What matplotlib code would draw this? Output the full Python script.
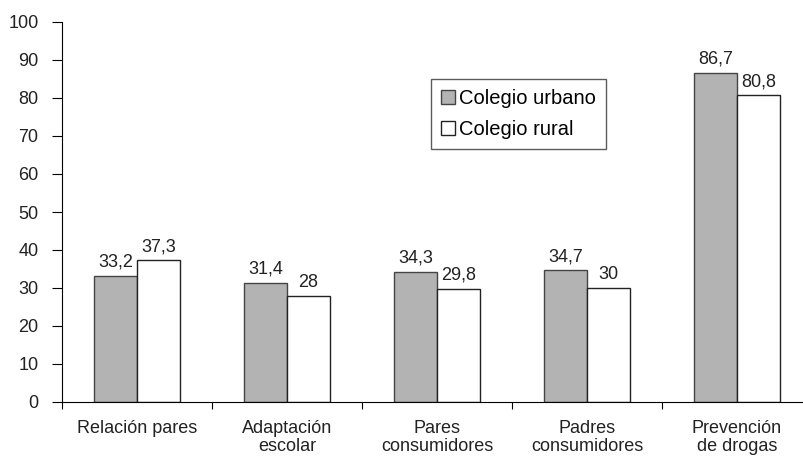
import numpy as np
import matplotlib.pyplot as plt

plt.rcParams['font.family'] = ['Liberation Sans', 'DejaVu Sans']

# Data
categories = ["Relación pares", "Adaptación\nescolar", "Pares\nconsumidores",
              "Padres\nconsumidores", "Prevención\nde drogas"]
urbano = [33.2, 31.4, 34.3, 34.7, 86.7]
rural = [37.3, 28, 29.8, 30, 80.8]
urbano_labels = ["33,2", "31,4", "34,3", "34,7", "86,7"]
rural_labels = ["37,3", "28", "29,8", "30", "80,8"]

fig = plt.figure(figsize=(8.04, 4.58), dpi=100)
ax = fig.add_axes([62 / 804, 1 - 402 / 458, 750 / 804, 380 / 458])

x = np.arange(len(categories)) + 0.5
w = 0.287
ax.bar(x - w / 2, urbano, w, color="#b3b3b3", edgecolor="#444444", linewidth=1, label="Colegio urbano")
ax.bar(x + w / 2, rural, w, color="white", edgecolor="#222222", linewidth=1, label="Colegio rural")

for xi, v, t in zip(x - w / 2, urbano, urbano_labels):
    ax.text(xi, v + 1.3, t, ha="center", va="bottom", fontsize=13, color="#222222")
for xi, v, t in zip(x + w / 2, rural, rural_labels):
    ax.text(xi, v + 1.3, t, ha="center", va="bottom", fontsize=13, color="#222222")

ax.set_xlim(0, len(categories))
ax.set_ylim(0, 100)
ax.set_yticks(np.arange(0, 101, 10))
ax.set_xticks(np.arange(0, len(categories) + 1))
ax.set_xticklabels([])
ax.set_xticks(x, minor=True)
ax.set_xticklabels(categories, minor=True, fontsize=13, color="#222222", linespacing=1.1)
ax.tick_params(axis="x", which="minor", length=0, pad=13)
ax.tick_params(axis="x", which="major", length=5, direction="out")
ax.tick_params(axis="y", length=7, labelsize=13, labelcolor="#222222", pad=10)

for s in ["top", "right"]:
    ax.spines[s].set_visible(False)

leg = ax.legend(loc="upper left", bbox_to_anchor=((431 - 62) / 750, (402 - 79) / 380),
                fontsize=14.5, frameon=True, fancybox=False, edgecolor="#333333",
                handlelength=0.7, handleheight=0.7, handletextpad=0.2,
                borderpad=0.5, labelspacing=0.6, borderaxespad=0)
leg.get_frame().set_linewidth(1)

fig.savefig("out.png", dpi=100)
